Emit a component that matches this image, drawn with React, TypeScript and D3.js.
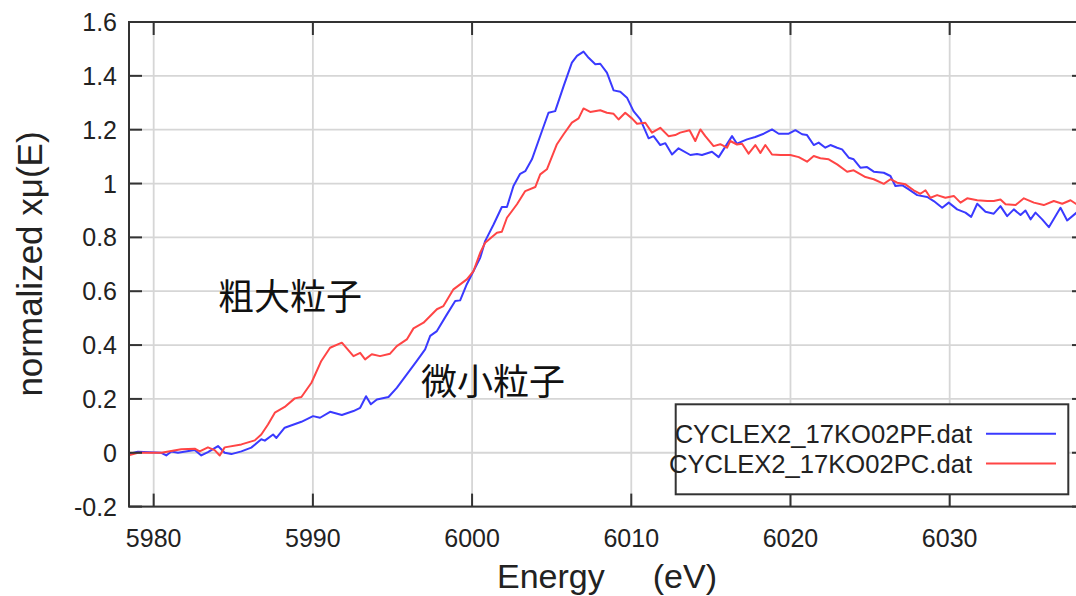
import * as d3 from 'd3';

// CYCLEX2_17KO02PF.dat (微小粒子, blue)
const pfEnergy = [
  5978.38, 5979.01, 5980.48, 5980.79, 5981.11, 5981.53, 5982.58, 5982.99, 5983.41, 5984.04,
  5984.46, 5984.88, 5985.51, 5986.13, 5986.76, 5986.98, 5987.5, 5987.71, 5988.23, 5989.28,
  5990.01, 5990.45, 5991.08, 5991.82, 5992.55, 5992.97, 5993.34, 5993.64, 5994.02, 5994.75,
  5995.27, 5995.9, 5996.53, 5997.05, 5997.37, 5997.79, 5998.42, 5998.94, 5999.25, 5999.67,
  6000.09, 6000.51, 6000.82, 6001.35, 6001.87, 6002.19, 6002.6, 6003.02, 6003.34, 6003.76,
  6004.39, 6004.8, 6005.22, 6005.75, 6006.27, 6006.59, 6007.0, 6007.32, 6007.74, 6008.05,
  6008.47, 6008.89, 6009.31, 6009.73, 6010.14, 6010.57, 6011.09, 6011.4, 6011.82, 6012.14,
  6012.56, 6012.97, 6013.71, 6014.13, 6014.44, 6015.07, 6015.49, 6016.33, 6016.64, 6017.27,
  6017.79, 6018.32, 6018.84, 6019.26, 6019.89, 6020.31, 6020.73, 6021.04, 6021.46, 6021.77,
  6022.19, 6022.51, 6022.93, 6023.24, 6023.66, 6023.97, 6024.39, 6024.81, 6025.23, 6025.86,
  6026.28, 6026.59, 6027.01, 6027.43, 6027.96, 6028.59, 6029.0, 6029.53, 6029.94, 6030.47,
  6030.99, 6031.35, 6031.73, 6032.25, 6032.77, 6033.19, 6033.61, 6034.03, 6034.45, 6034.76,
  6035.08, 6035.39, 6035.81, 6036.23, 6036.96, 6037.38, 6037.97,
];
const pfMu = [
  -0.006, 0.004, 0.0, -0.01, 0.005, 0.0, 0.01, -0.01, 0.002, 0.025,
  0.0, -0.005, 0.005, 0.019, 0.05, 0.045, 0.068, 0.055, 0.093, 0.115,
  0.136, 0.13, 0.152, 0.14, 0.155, 0.167, 0.21, 0.18, 0.198, 0.207,
  0.241, 0.291, 0.341, 0.384, 0.434, 0.452, 0.514, 0.564, 0.566, 0.626,
  0.675, 0.724, 0.786, 0.848, 0.913, 0.913, 0.991, 1.036, 1.046, 1.09,
  1.195, 1.263, 1.269, 1.362, 1.449, 1.474, 1.49, 1.467, 1.443, 1.445,
  1.412, 1.346, 1.341, 1.319, 1.269, 1.238, 1.168, 1.176, 1.143, 1.15,
  1.108, 1.131, 1.106, 1.11, 1.106, 1.118, 1.098, 1.176, 1.148, 1.164,
  1.173, 1.185, 1.201, 1.185, 1.185, 1.198, 1.183, 1.18, 1.143, 1.152,
  1.133, 1.143, 1.133, 1.127, 1.096, 1.09, 1.059, 1.061, 1.044, 1.04,
  1.028, 0.991, 0.994, 0.978, 0.957, 0.95, 0.935, 0.91, 0.929, 0.904,
  0.892, 0.876, 0.925, 0.895, 0.888, 0.916, 0.879, 0.904, 0.883, 0.9,
  0.867, 0.892, 0.867, 0.838, 0.91, 0.863, 0.892,
];

// CYCLEX2_17KO02PC.dat (粗大粒子, red)
const pcEnergy = [
  5978.38, 5979.01, 5980.48, 5981.73, 5982.58, 5982.89, 5983.41, 5983.83, 5984.15, 5984.46,
  5985.51, 5986.35, 5986.76, 5987.18, 5987.61, 5988.23, 5988.86, 5989.28, 5989.91, 5990.53,
  5991.08, 5991.82, 5992.55, 5992.97, 5993.28, 5993.7, 5994.22, 5994.85, 5995.27, 5995.9,
  5996.32, 5996.95, 5997.79, 5998.2, 5998.83, 5999.67, 6000.09, 6000.51, 6000.82, 6001.56,
  6001.87, 6002.19, 6002.82, 6003.34, 6003.97, 6004.28, 6004.7, 6005.33, 6005.75, 6006.27,
  6006.69, 6007.0, 6007.42, 6008.05, 6008.47, 6008.89, 6009.2, 6009.62, 6010.04, 6010.36,
  6010.88, 6011.3, 6011.82, 6012.34, 6012.76, 6013.07, 6013.66, 6014.02, 6014.34, 6014.65,
  6015.17, 6015.59, 6016.01, 6016.22, 6016.64, 6016.96, 6017.37, 6017.79, 6018.11, 6018.42,
  6018.84, 6019.37, 6019.99, 6020.52, 6021.04, 6021.46, 6021.88, 6022.4, 6022.93, 6023.56,
  6023.97, 6024.71, 6025.23, 6025.86, 6026.28, 6026.7, 6027.22, 6027.74, 6028.16, 6028.48,
  6028.79, 6029.21, 6029.73, 6030.26, 6030.68, 6031.1, 6031.73, 6032.36, 6032.77, 6033.19,
  6033.51, 6034.14, 6034.66, 6035.29, 6035.91, 6036.54, 6037.07, 6037.59, 6037.97,
];
const pcMu = [
  -0.01, 0.0, 0.0, 0.013, 0.015, 0.005, 0.02, 0.01, -0.01, 0.02,
  0.031, 0.046, 0.068, 0.105, 0.149, 0.17, 0.202, 0.207, 0.26, 0.341,
  0.39, 0.409, 0.359, 0.371, 0.347, 0.366, 0.359, 0.368, 0.396, 0.421,
  0.462, 0.483, 0.533, 0.545, 0.607, 0.644, 0.675, 0.743, 0.78, 0.817,
  0.821, 0.873, 0.923, 0.972, 0.987, 1.034, 1.053, 1.146, 1.183, 1.226,
  1.242, 1.279, 1.266, 1.272, 1.263, 1.259, 1.238, 1.263, 1.242, 1.222,
  1.226, 1.189, 1.207, 1.176, 1.18, 1.189, 1.198, 1.158, 1.201, 1.176,
  1.139, 1.146, 1.133, 1.158, 1.145, 1.148, 1.111, 1.143, 1.114, 1.143,
  1.108, 1.106, 1.106, 1.098, 1.081, 1.102, 1.094, 1.09, 1.071, 1.044,
  1.049, 1.024, 1.016, 0.999, 1.016, 1.003, 0.997, 0.975, 0.962, 0.975,
  0.947, 0.957, 0.947, 0.954, 0.929, 0.945, 0.938, 0.935, 0.935, 0.941,
  0.923, 0.92, 0.945, 0.929, 0.92, 0.935, 0.925, 0.938, 0.923,
];

const xTicks = [5980, 5990, 6000, 6010, 6020, 6030];
const yTicks = [-0.2, 0, 0.2, 0.4, 0.6, 0.8, 1, 1.2, 1.4, 1.6];

const seriesNames = ['CYCLEX2_17KO02PF.dat', 'CYCLEX2_17KO02PC.dat'];
const seriesColors = ['#3a3aff', '#ff4545'];

const W = 1076;
const H = 596;
const plot = { left: 129, right: 1085, top: 22, bottom: 506.6 };
const FONT = "'Liberation Sans', Arial, sans-serif";
const CJK = "'Noto Sans CJK JP', 'Noto Sans CJK SC', sans-serif";

export default function App() {
  const x = d3.scaleLinear().domain([5978.45, 6038.5]).range([plot.left, plot.right]);
  const y = d3.scaleLinear().domain([-0.2, 1.6]).range([plot.bottom, plot.top]);

  const line = d3
    .line<[number, number]>()
    .x((d) => x(d[0]))
    .y((d) => y(d[1]));

  const pf = pfEnergy.map((e, i) => [e, pfMu[i]] as [number, number]);
  const pc = pcEnergy.map((e, i) => [e, pcMu[i]] as [number, number]);

  const tickLen = 13;
  const axisColor = '#333';
  const textColor = '#222';

  return (
    <svg
      width={W}
      height={H}
      style={{ position: 'absolute', left: 0, top: 0, background: '#fff' }}
    >
      <defs>
        <clipPath id="plotClip">
          <rect x={plot.left} y={plot.top} width={plot.right - plot.left} height={plot.bottom - plot.top} />
        </clipPath>
      </defs>

      {/* grid */}
      <g stroke="#d6d6d6" strokeWidth={1.8}>
        {xTicks.map((t) => (
          <line key={'gx' + t} x1={x(t)} x2={x(t)} y1={plot.top} y2={plot.bottom} />
        ))}
        {yTicks.map((t) => (
          <line key={'gy' + t} x1={plot.left} x2={plot.right} y1={y(t)} y2={y(t)} />
        ))}
      </g>

      {/* curves */}
      <g clipPath="url(#plotClip)" fill="none" strokeWidth={2} strokeLinejoin="round">
        <path d={line(pf) || ''} stroke={seriesColors[0]} />
        <path d={line(pc) || ''} stroke={seriesColors[1]} />
      </g>

      {/* frame + ticks */}
      <g stroke={axisColor} strokeWidth={2}>
        <rect
          x={plot.left}
          y={plot.top}
          width={plot.right - plot.left}
          height={plot.bottom - plot.top}
          fill="none"
        />
        {xTicks.map((t) => (
          <g key={'tx' + t}>
            <line x1={x(t)} x2={x(t)} y1={plot.bottom} y2={plot.bottom - tickLen} />
            <line x1={x(t)} x2={x(t)} y1={plot.top} y2={plot.top + tickLen} />
          </g>
        ))}
        {yTicks.map((t) => (
          <g key={'ty' + t}>
            <line x1={plot.left} x2={plot.left + tickLen} y1={y(t)} y2={y(t)} />
            <line x1={plot.right} x2={plot.right - tickLen} y1={y(t)} y2={y(t)} />
          </g>
        ))}
      </g>

      {/* tick labels */}
      <g fontFamily={FONT} fontSize={25} fill={textColor}>
        {xTicks.map((t) => (
          <text key={'lx' + t} x={x(t)} y={547} textAnchor="middle">
            {t}
          </text>
        ))}
        {yTicks.map((t) => (
          <text key={'ly' + t} x={117} y={y(t) + 9} textAnchor="end">
            {String(+t.toFixed(1))}
          </text>
        ))}
      </g>

      {/* axis titles */}
      <text
        transform="translate(42,264) rotate(-90)"
        textAnchor="middle"
        fontFamily={FONT}
        fontSize={35}
        fill={textColor}
      >
        normalized xμ(E)
      </text>
      <text x={497} y={588} fontFamily={FONT} fontSize={34} fill={textColor}>
        Energy
      </text>
      <text x={717} y={588} textAnchor="end" fontFamily={FONT} fontSize={34} fill={textColor}>
        (eV)
      </text>

      {/* annotations */}
      <text x={218} y={310} fontFamily={CJK} fontSize={36} fill="#111">
        粗大粒子
      </text>
      <text x={421} y={395} fontFamily={CJK} fontSize={36} fill="#111">
        微小粒子
      </text>

      {/* legend */}
      <g>
        <rect x={675.7} y={404.3} width={392.6} height={90} fill="#fff" stroke={axisColor} strokeWidth={2} />
        {seriesNames.map((name, i) => (
          <g key={name}>
            <text
              x={972}
              y={443 + i * 29.7}
              textAnchor="end"
              fontFamily={FONT}
              fontSize={25.6}
              fill={textColor}
            >
              {name}
            </text>
            <line
              x1={986}
              x2={1056}
              y1={433.7 + i * 29.7}
              y2={433.7 + i * 29.7}
              stroke={seriesColors[i]}
              strokeWidth={2}
            />
          </g>
        ))}
      </g>
    </svg>
  );
}
